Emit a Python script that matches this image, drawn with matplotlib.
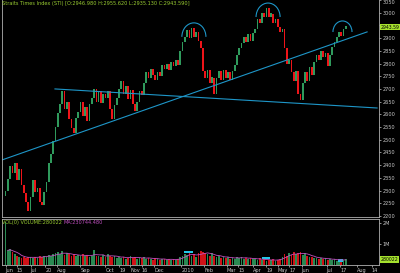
"""STI daily chart with trendlines, peak arcs and volume panel"""
import numpy as np
import pandas as pd
import matplotlib
matplotlib.use('Agg')
import matplotlib.pyplot as plt
from matplotlib.patches import Arc, Rectangle
import matplotlib.transforms as mtransforms

BG = 'black'
UP = '#2f9a5c'
DOWN = '#ee1419'
VUP = '#2a8a52'
VDOWN = '#d01218'
LINE = '#1e96c8'
AXC = '#c8c8c8'
LIME = '#a6e22e'
TITLEC = '#9acd32'
MAC = '#c050c0'

# ── data: one sample every 2 trading days, from 2009-05-29 ──
first_open = 2280
closes = [
    2300, 2345, 2395, 2370, 2410, 2340, 2385, 2320, 2290, 2255,
    2220, 2275, 2340, 2295, 2310, 2255, 2245, 2295, 2335, 2410,
    2445, 2495, 2550, 2605, 2640, 2690, 2620, 2650, 2580, 2545,
    2525, 2585, 2610, 2650, 2595, 2630, 2575, 2640, 2665, 2700,
    2650, 2690, 2645, 2680, 2665, 2690, 2620, 2580, 2635, 2665,
    2700, 2730, 2680, 2710, 2660, 2695, 2640, 2615, 2650, 2690,
    2675, 2725, 2765, 2745, 2780, 2755, 2735, 2765, 2750, 2795,
    2780, 2800, 2775, 2805, 2790, 2815, 2795, 2850, 2885, 2905,
    2930, 2900, 2940, 2905, 2925, 2890, 2860, 2770, 2745, 2775,
    2725, 2745, 2680, 2745, 2770, 2735, 2775, 2745, 2765, 2735,
    2770, 2795, 2835, 2860, 2880, 2905, 2885, 2915, 2890, 2920,
    2935, 2975, 2960, 3000, 2985, 3020, 2985, 2995, 2960, 2975,
    2945, 2925, 2935, 2860, 2800, 2815, 2765, 2730, 2770, 2680,
    2655, 2725, 2765, 2730, 2785, 2755, 2805, 2835, 2815, 2850,
    2825, 2840, 2790, 2835, 2865, 2885, 2905, 2925, 2910, 2935,
    2943.59,
]
vol_k = [
    2050, 700, 750, 600, 500, 450, 400, 350, 380, 330,
    360, 400, 330, 380, 350, 420, 380, 450, 400, 480,
    430, 500, 550, 600, 520, 650, 480, 560, 500, 450,
    520, 440, 480, 420, 500, 430, 470, 400, 450, 700,
    450, 420, 380, 480, 400, 500, 420, 380, 450, 350,
    380, 320, 400, 300, 350, 420, 330, 380, 300, 350,
    320, 380, 280, 350, 300, 260, 330, 280, 250, 300,
    270, 230, 300, 250, 280, 220, 300, 380, 450, 520,
    480, 600, 420, 500, 380, 550, 650, 600, 580, 500,
    450, 550, 420, 380, 450, 350, 400, 330, 380, 300,
    350, 300, 400, 320, 380, 280, 350, 300, 330, 280,
    300, 250, 320, 230, 280, 200, 250, 220, 280, 200,
    250, 300, 400, 520, 450, 550, 480, 600, 500, 560,
    620, 480, 550, 420, 400, 380, 350, 330, 300, 350,
    280, 320, 250, 300, 230, 280, 200, 250, 220, 260,
    280.022,
]
tick_dates = ['2009-06-01', '2009-06-15', '2009-07-01', '2009-07-20', '2009-08-03',
              '2009-09-01', '2009-10-01', '2009-10-19', '2009-11-02', '2009-11-16',
              '2009-12-01', '2010-01-04', '2010-02-01', '2010-03-01', '2010-03-15',
              '2010-04-01', '2010-04-19', '2010-05-03', '2010-05-17', '2010-06-01',
              '2010-07-01', '2010-07-17', '2010-08-01', '2010-08-14']
tick_labels = ['Jun', '15', 'Jul', '20', 'Aug', 'Sep', 'Oct', '19', 'Nov', '16', 'Dec',
               '2010', 'Feb', 'Mar', '15', 'Apr', '19', 'May', '17', 'Jun', 'Jul', '17',
               'Aug', '14']
price_ticks = list(range(2200, 3051, 50))

days = pd.bdate_range('2009-05-29', periods=302)
x = np.arange(1, 302, 2)
closes = np.array(closes, dtype=float)
opens = np.r_[first_open, closes[:-1]]
up = closes >= opens
cols = np.where(up, UP, DOWN)
vcols = np.where(up, VUP, VDOWN)


def pos(d):
    d = pd.Timestamp(d)
    if d <= days[-1]:
        return int(days.searchsorted(d))
    anchor = pd.Timestamp(tick_dates[-3])
    return int(days.searchsorted(anchor)) + (d - anchor).days


fig = plt.figure(figsize=(4, 2.73), dpi=100, facecolor=BG)
ax1 = fig.add_axes([0.005, 56 / 273, 0.9425, 217 / 273], facecolor=BG)
ax2 = fig.add_axes([0.005, 8 / 273, 0.9425, 46 / 273], facecolor=BG)
XL = (-2.2, 330.2)

# candles
body = np.maximum(np.abs(closes - opens), 12)
ax1.bar(x, body, bottom=np.minimum(opens, closes), width=1.5, color=cols, lw=0)

# trendlines + peak arcs
ax1.plot([-2.2, 319.7], [2420.5, 2924.4], color=LINE, lw=0.8)
ax1.plot([44.5, 328.5], [2700, 2625], color=LINE, lw=0.8)
for cx, cy, w, h in [(167, 2905, 21.2, 110), (232.4, 2983, 21.2, 110), (298, 2924, 16.8, 87)]:
    ax1.add_patch(Arc((cx, cy), w, h, theta1=0, theta2=180, color=LINE, lw=0.8))

ax1.set_xlim(*XL)
ax1.set_ylim(2196, 3050)
ax1.set_xticks([])
ax1.yaxis.tick_right()
ax1.set_yticks(price_ticks)
ax1.set_yticklabels(['' if t == 2950 else str(t) for t in price_ticks])
ax1.tick_params(axis='y', colors=AXC, labelsize=3.6, length=1.5, width=0.5, pad=1)
ax1.get_yticklabels()[-1].set_va('top')
for s in ax1.spines.values():
    s.set_color('#b0b0b0'); s.set_linewidth(0.6)
ax1.spines['top'].set_visible(False)

tr = mtransforms.blended_transform_factory(ax1.transAxes, ax1.transData)
ax1.text(1.004, closes[-1], f'{closes[-1]:.2f}', transform=tr, fontsize=3.3, color='black',
         va='center', ha='left', bbox=dict(boxstyle='square,pad=0.2', fc=LIME, ec='none'))

# volume
ax2.bar(x, vol_k, width=1.5, color=vcols, lw=0)
ma = pd.Series(vol_k[1:]).rolling(5, min_periods=1).mean()
ax2.plot(x[1:], ma, color=MAC, lw=0.6)
for rx, ry, rw, rh in [(158.3, 571, 7.9, 96), (227, 286, 7, 95), (294, 150, 4.5, 140)]:
    ax2.add_patch(Rectangle((rx, ry), rw, rh, color='#22c8e8', lw=0))
ax2.set_xlim(*XL)
ax2.set_ylim(0, 2190)
ax2.yaxis.tick_right()
ax2.set_yticks([1000, 2000])
ax2.set_yticklabels(['1M', '2M'])
ax2.tick_params(axis='y', colors=AXC, labelsize=3.6, length=1.5, width=0.5, pad=1)
ax2.set_xticks([pos(d) for d in tick_dates])
ax2.set_xticklabels(tick_labels, ha='left')
ax2.tick_params(axis='x', colors=AXC, labelsize=3.6, length=1.5, width=0.5, pad=0.5)
for s in ax2.spines.values():
    s.set_color('#b0b0b0'); s.set_linewidth(0.6)
tr2 = mtransforms.blended_transform_factory(ax2.transAxes, ax2.transData)
ax2.text(1.004, vol_k[-1], '280022', transform=tr2, fontsize=3.3, color='black',
         va='center', ha='left', bbox=dict(boxstyle='square,pad=0.2', fc=LIME, ec='none'))

fig.text(2 / 400, 1 - 3.5 / 273,
         'Straits Times Index (STI) [O:2946.980 H:2955.620 L:2935.130 C:2943.590]',
         color=TITLEC, fontsize=3.6, va='center', ha='left')
fig.text(2 / 400, 1 - 222.5 / 273, 'VOL(0) VOLUME:280022', color=TITLEC,
         fontsize=3.6, va='center', ha='left')
fig.text(63 / 400, 1 - 222.5 / 273, 'MA:230744.480', color=MAC,
         fontsize=3.6, va='center', ha='left')

fig.savefig('out.png', dpi=100, facecolor=BG)
